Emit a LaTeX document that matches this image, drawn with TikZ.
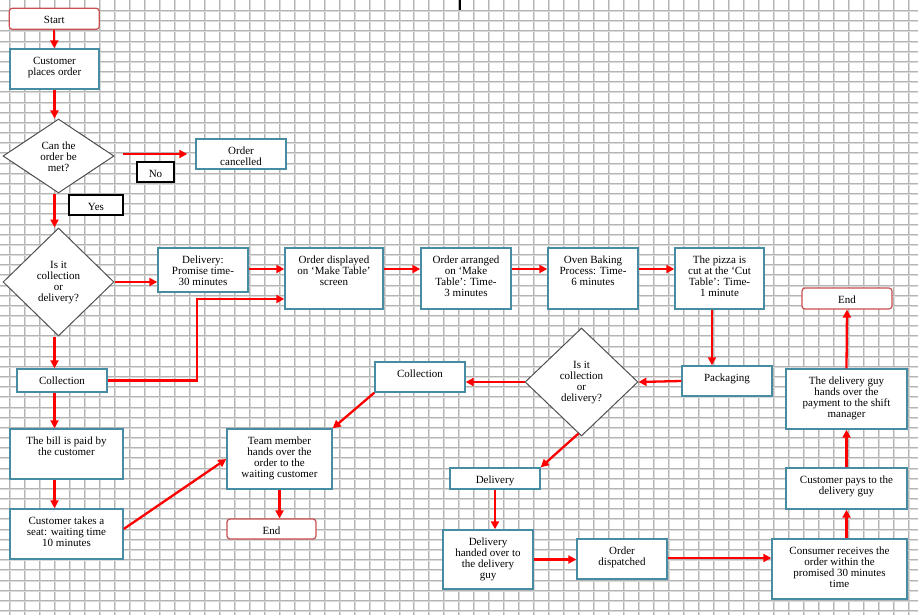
\documentclass[tikz,border=0pt]{standalone}
\usepackage{fontspec}
\setmainfont{Liberation Serif}
\usetikzlibrary{arrows.meta,shapes.geometric,calc}
\definecolor{teal2}{RGB}{70,140,162}
\definecolor{endred}{RGB}{200,80,80}
\definecolor{gridc}{RGB}{180,180,180}
\definecolor{gridl}{RGB}{218,218,218}
\definecolor{diagray}{RGB}{80,80,80}
\newcommand{\mkbox}[7]{%
  \node[#1, minimum width=#5pt, minimum height=#6pt] (#2) at (#3,#4) {};
  \node[txt, anchor=north] (#2-t) at ([yshift=-8.5pt]#2.north) {#7};
}
\newcommand{\mkdia}[7]{%
  \node[#1, minimum width=#5pt, minimum height=#6pt] (#2) at (#3,#4) {};
  \node[txt] (#2-t) at ([yshift=-1pt]#2.center) {#7};
}
\begin{document}
\begin{tikzpicture}[x=1pt,y=-1pt,
  txt/.style={inner sep=0pt, align=center, font=\fontsize{11}{11}\selectfont},
  pbox/.style={rectangle, draw=teal2, line width=1.4pt, fill=white, inner sep=0pt},
  ebox/.style={rectangle, draw=endred, line width=1.2pt, fill=white, rounded corners=3pt, inner sep=0pt},
  dbox/.style={diamond, draw=diagray, line width=1pt, fill=white, inner sep=0pt},
  lbox/.style={rectangle, draw=black, line width=1.1pt, fill=white, inner sep=0pt},
  gridline/.style={draw=gridc, line width=1pt},
  gridlight/.style={draw=gridl, line width=1pt},
  arr/.style={draw=red, line width=2.3pt, -{Triangle[length=8pt,width=8pt]}}]
\useasboundingbox (0,0) rectangle (918,615);
\fill[white] (0,0) rectangle (918,615);
% grid
\foreach \k in {0,...,60} {
  \pgfmathsetmacro{\gx}{round(9.3+14.97*\k)}
  \draw[gridlight] (\gx+1.5,0) -- (\gx+1.5,615);
  \draw[gridline] (\gx+0.5,0) -- (\gx+0.5,615);
}
\foreach \k in {0,...,59} {
  \pgfmathsetmacro{\gy}{round(10+10.17*\k)}
  \draw[gridlight] (0,\gy+1.5) -- (918,\gy+1.5);
  \draw[gridline] (0,\gy+0.5) -- (918,\gy+0.5);
}
\draw[line width=2.5pt] (460,0) -- (460,10);

% left column
\mkbox{ebox}{start}{54.3}{18.8}{90}{21}{Start}
\mkbox{pbox}{cpo}{54.5}{69}{89}{40}{Customer\\places order}
\mkdia{dbox}{d1}{58.5}{156}{111}{74}{Can the\\order be\\met?}
\mkbox{pbox}{canc}{241}{154}{90}{30}{Order\\cancelled}
\mkbox{lbox}{no}{155.5}{172}{37}{20}{No}
\mkbox{lbox}{yes}{96}{205}{54}{20}{Yes}
\mkdia{dbox}{d2}{58.5}{282}{111}{108}{Is it\\collection\\or\\delivery?}
\mkbox{pbox}{coll1}{62}{380.5}{90}{23}{Collection}
\mkbox{pbox}{bill}{66.5}{454}{113}{50}{The bill is paid by\\the customer}
\mkbox{pbox}{seat}{66.5}{534}{113}{50}{Customer takes a\\seat: waiting time\\10 minutes}
\mkbox{pbox}{team}{279.5}{459}{105}{60}{Team member\\hands over the\\order to the\\waiting customer}
\mkbox{ebox}{end1}{271.5}{529}{89}{20}{End}

% top row
\mkbox{pbox}{del1}{203}{270}{90}{44}{Delivery:\\Promise time-\\30 minutes}
\mkbox{pbox}{disp}{334}{278.5}{98}{61}{Order displayed\\on ‘Make Table’\\screen}
\mkbox{pbox}{arr1}{466}{278.5}{90}{61}{Order arranged\\on ‘Make\\Table’: Time-\\3 minutes}
\mkbox{pbox}{oven}{593}{278.5}{90}{61}{Oven Baking\\Process: Time-\\6 minutes}
\mkbox{pbox}{cut}{719.5}{278.5}{89}{61}{The pizza is\\cut at the ‘Cut\\Table’: Time-\\1 minute}

% middle / bottom
\mkbox{pbox}{pack}{727}{381}{90}{30}{Packaging}
\mkdia{dbox}{d3}{581.5}{382}{113}{108}{Is it\\collection\\or\\delivery?}
\mkbox{pbox}{coll2}{420}{377}{90}{30}{Collection}
\mkbox{pbox}{del2}{495}{478.5}{90}{21}{Delivery}
\mkbox{pbox}{hand}{488}{559.5}{90}{59}{Delivery\\handed over to\\the delivery\\guy}
\mkbox{pbox}{disp2}{622}{559}{90}{40}{Order\\dispatched}
\mkbox{pbox}{cons}{839.5}{569}{135}{60}{Consumer receives the\\order within the\\promised 30 minutes\\time}
\mkbox{pbox}{pays}{846.5}{488.5}{121}{41}{Customer pays to the\\delivery guy}
\mkbox{pbox}{guy}{846.5}{399}{121}{60}{The delivery guy\\hands over the\\payment to the shift\\manager}
\mkbox{ebox}{end2}{847}{298.5}{90}{21}{End}

% connectors
\draw[arr] (start.south) -- (start.south |- cpo.north);
\draw[arr] (cpo.south) -- (cpo.south |- d1.north);
\draw[arr, shorten <=8pt, shorten >=8pt] (d1.east |- canc.west) -- (canc.west);
\draw[arr] (cpo.south |- d1.south) -- (cpo.south |- d2.north);
\draw[arr] (d2.east) -- (d2.east -| del1.west);
\draw[arr] (cpo.south |- d2.south) -- (cpo.south |- coll1.north);
\coordinate (j1) at (197,299);
\draw[arr] (coll1.east) -| (j1) -- (j1 -| disp.west);
\draw[arr] ([yshift=1pt]del1.east) -- ([yshift=1pt]del1.east -| disp.west);
\draw[arr] ([yshift=9.5pt]disp.east) -- ([yshift=9.5pt]arr1.west);
\draw[arr] ([yshift=9.5pt]arr1.east) -- ([yshift=9.5pt]oven.west);
\draw[arr] ([yshift=9.5pt]oven.east) -- ([yshift=9.5pt]cut.west);
\draw[arr] ([xshift=-7.5pt]cut.south) -- ([xshift=-7.5pt]cut.south |- pack.north);
\draw[arr] (pack.west) -- (d3.east);
\draw[arr] (d3.west) -- (d3.west -| coll2.east);
\draw[arr] ([xshift=-3pt,yshift=3pt]d3.south) -- (del2.north east);
\draw[arr] (coll2.south west) -- (team.north east);
\draw[arr] (del2.south) -- (del2.south |- hand.north);
\draw[arr] (hand.east) -- (hand.east -| disp2.west);
\draw[arr] ([yshift=1pt]disp2.east) -- ([yshift=1pt]disp2.east -| cons.west);
\draw[arr] (pays.south |- cons.north) -- (pays.south);
\draw[arr] (pays.north) -- (guy.south);
\draw[arr] (guy.north) -- (end2.south);
\draw[arr] (cpo.south |- coll1.south) -- (cpo.south |- bill.north);
\draw[arr] (cpo.south |- bill.south) -- (cpo.south |- seat.north);
\draw[arr] ([yshift=5pt]seat.east) -- (team.west);
\draw[arr] (team.south) -- (team.south |- end1.north);
\end{tikzpicture}
\end{document}
